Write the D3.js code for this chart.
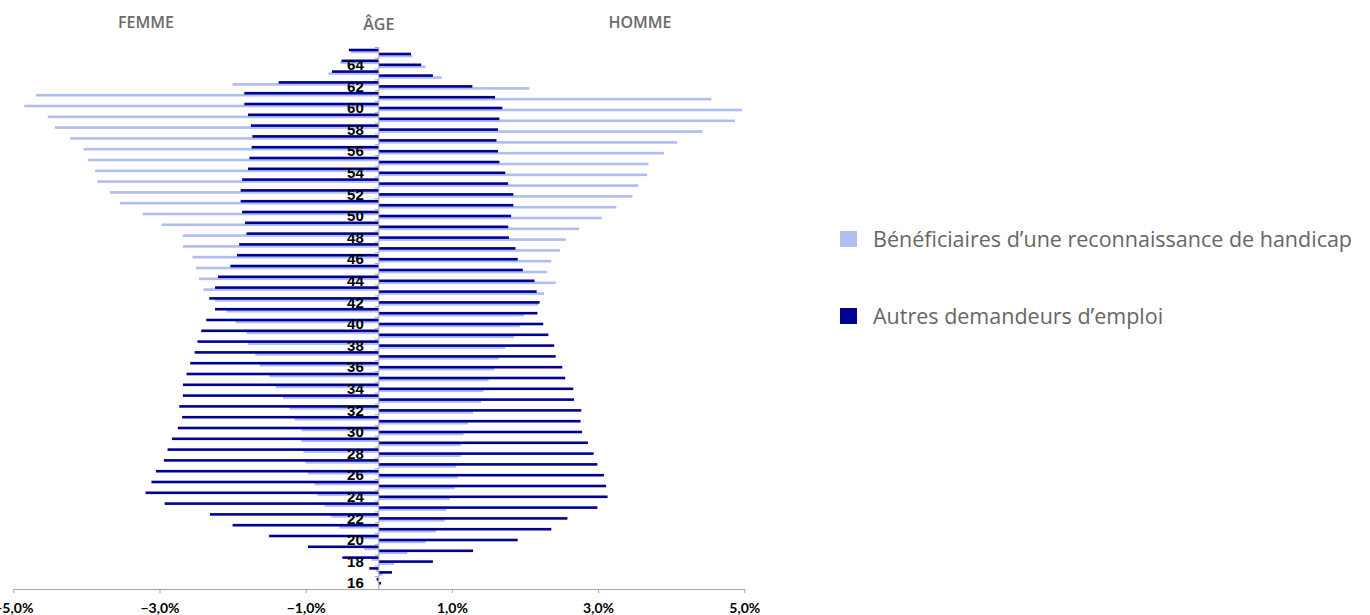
<!DOCTYPE html>
<html>
<head>
<meta charset="utf-8">
<script src="https://cdn.jsdelivr.net/npm/d3@7"></script>
<style>
  html, body { margin: 0; padding: 0; background: #fff; }
  svg { display: block; }
</style>
</head>
<body>
<svg id="chart" width="1370" height="615"></svg>
<script>
// ages, bottom to top
const ages = [16, 17, 18, 19, 20, 21, 22, 23, 24, 25, 26, 27, 28, 29, 30, 31, 32, 33, 34, 35,
  36, 37, 38, 39, 40, 41, 42, 43, 44, 45, 46, 47, 48, 49, 50, 51, 52, 53, 54, 55,
  56, 57, 58, 59, 60, 61, 62, 63, 64, 65];

// % of each population, femmes (drawn to the left)
const femmeAutres = [0.03, 0.13, 0.50, 0.97, 1.50, 2.00, 2.31, 2.93, 3.19, 3.11, 3.05, 2.94, 2.89, 2.83, 2.75, 2.69, 2.73, 2.68, 2.68, 2.63,
  2.58, 2.52, 2.48, 2.43, 2.36, 2.24, 2.32, 2.24, 2.20, 2.03, 1.94, 1.91, 1.81, 1.83, 1.87, 1.89, 1.89, 1.87, 1.79, 1.77,
  1.74, 1.73, 1.75, 1.79, 1.84, 1.84, 1.37, 0.64, 0.51, 0.41];
const femmeHandicap = [0.02, 0.04, 0.10, 0.20, 0.28, 0.54, 0.65, 0.74, 0.84, 0.88, 0.97, 1.00, 1.03, 1.06, 1.06, 1.15, 1.22, 1.31, 1.41, 1.50,
  1.63, 1.69, 1.79, 1.81, 1.96, 2.08, 2.24, 2.40, 2.46, 2.50, 2.55, 2.68, 2.68, 2.97, 3.23, 3.54, 3.68, 3.85, 3.88, 3.98,
  4.04, 4.22, 4.43, 4.53, 4.85, 4.69, 2.00, 0.69, 0.53, 0.38];

// hommes (drawn to the right)
const hommeAutres = [0.03, 0.18, 0.74, 1.29, 1.90, 2.36, 2.58, 2.99, 3.13, 3.11, 3.08, 2.99, 2.94, 2.86, 2.78, 2.76, 2.77, 2.67, 2.66, 2.55,
  2.51, 2.42, 2.40, 2.32, 2.25, 2.17, 2.20, 2.16, 2.13, 1.97, 1.90, 1.87, 1.78, 1.77, 1.81, 1.84, 1.84, 1.77, 1.73, 1.65,
  1.63, 1.61, 1.63, 1.65, 1.69, 1.59, 1.28, 0.74, 0.58, 0.44];
const hommeHandicap = [0.01, 0.05, 0.21, 0.39, 0.64, 0.78, 0.90, 0.92, 0.97, 1.04, 1.08, 1.06, 1.12, 1.12, 1.16, 1.22, 1.29, 1.40, 1.43, 1.50,
  1.58, 1.64, 1.73, 1.85, 1.93, 1.99, 2.18, 2.26, 2.42, 2.30, 2.36, 2.48, 2.56, 2.74, 3.05, 3.25, 3.47, 3.55, 3.67, 3.69,
  3.90, 4.08, 4.43, 4.87, 4.97, 4.55, 2.06, 0.86, 0.64, 0.46];

const xTicks = [-5, -3, -1, 1, 3, 5];
const legendLabels = ['Bénéficiaires d’une reconnaissance de handicap', 'Autres demandeurs d’emploi'];

const colorLight = '#afbdf0';
const colorDark = '#000091';

const svg = d3.select('#chart');

const x = d3.scaleLinear().domain([-5, 5]).range([13.3, 744.3]);
const y = d3.scaleBand()
    .domain(ages.slice().reverse())
    .range([47, 587])
    .padding(0);

// four thin bars inside each age band
const inner = d3.scaleBand()
    .domain(['fd', 'fl', 'hd', 'hl'])
    .range([2, 10]);

const barH = 2.6;

const rows = ages.map((age, i) => ({
    age: age,
    fd: femmeAutres[i],
    fl: femmeHandicap[i],
    hd: hommeAutres[i],
    hl: hommeHandicap[i]
}));

const series = [
    { key: 'fl', side: -1, color: colorLight },
    { key: 'hl', side: 1, color: colorLight },
    { key: 'fd', side: -1, color: colorDark },
    { key: 'hd', side: 1, color: colorDark }
];

const barsG = svg.append('g');

series.forEach((s) => {
    barsG.append('g')
        .selectAll('rect')
        .data(rows)
        .join('rect')
        .attr('x', (d) => s.side < 0 ? x(-d[s.key]) : x(0))
        .attr('width', (d) => Math.abs(x(d[s.key]) - x(0)))
        .attr('y', (d) => y(d.age) + inner(s.key) + inner.bandwidth() / 2 - barH / 2)
        .attr('height', barH)
        .attr('fill', s.color);
});

// x axis
const xAxis = d3.axisBottom(x)
    .tickValues(xTicks)
    .tickFormat((d) => d3.format('.1f')(d).replace('.', ',') + '%')
    .tickSizeInner(4)
    .tickSizeOuter(0)
    .tickPadding(10);

const xG = svg.append('g')
    .attr('transform', 'translate(0,589)')
    .call(xAxis);

xG.select('.domain').attr('stroke', '#a6a6a6');
xG.selectAll('.tick line').attr('stroke', '#a6a6a6');
xG.selectAll('.tick text')
    .attr('fill', '#000')
    .style('font-family', 'Lato, "Liberation Sans", Arial, sans-serif')
    .style('font-weight', '700')
    .style('font-size', '14px');

// age axis in the middle
const yAxis = d3.axisLeft(y)
    .tickValues(ages.filter((a) => a % 2 === 0))
    .tickSize(0)
    .tickPadding(15);

const yG = svg.append('g')
    .attr('transform', 'translate(' + x(0) + ',0)')
    .call(yAxis);

yG.select('.domain').remove();
yG.selectAll('.tick text')
    .attr('dy', '0.45em')
    .attr('fill', '#000')
    .style('font-family', '"Liberation Sans", Arial, sans-serif')
    .style('font-weight', '700')
    .style('font-size', '15px');

svg.append('line')
    .attr('x1', x(0)).attr('x2', x(0))
    .attr('y1', 47).attr('y2', 589)
    .attr('stroke', '#a6a6a6');

svg.append('g')
    .selectAll('line')
    .data(ages)
    .join('line')
    .attr('x1', x(0) - 4).attr('x2', x(0))
    .attr('y1', (d) => y(d) + 0.5)
    .attr('y2', (d) => y(d) + 0.5)
    .attr('stroke', '#a6a6a6');

// column headers
const headers = [
    { text: 'FEMME', x: 146, y: 28 },
    { text: 'ÂGE', x: x(0), y: 30 },
    { text: 'HOMME', x: 640, y: 28 }
];

svg.append('g')
    .selectAll('text')
    .data(headers)
    .join('text')
    .attr('x', (d) => d.x)
    .attr('y', (d) => d.y)
    .attr('text-anchor', 'middle')
    .attr('fill', '#6b6b6b')
    .style('font-family', '"Open Sans", sans-serif')
    .style('font-weight', '600')
    .style('font-size', '16px')
    .text((d) => d.text);

// legend
const legend = svg.append('g')
    .selectAll('g')
    .data(legendLabels)
    .join('g')
    .attr('transform', (d, i) => 'translate(840,' + (231 + i * 77) + ')');

legend.append('rect')
    .attr('width', 17)
    .attr('height', 16)
    .attr('fill', (d, i) => i === 0 ? colorLight : colorDark);

legend.append('text')
    .attr('x', 33)
    .attr('y', 16)
    .attr('fill', '#666')
    .style('font-family', '"Open Sans", sans-serif')
    .style('font-size', '21.5px')
    .text((d) => d);
</script>
</body>
</html>
